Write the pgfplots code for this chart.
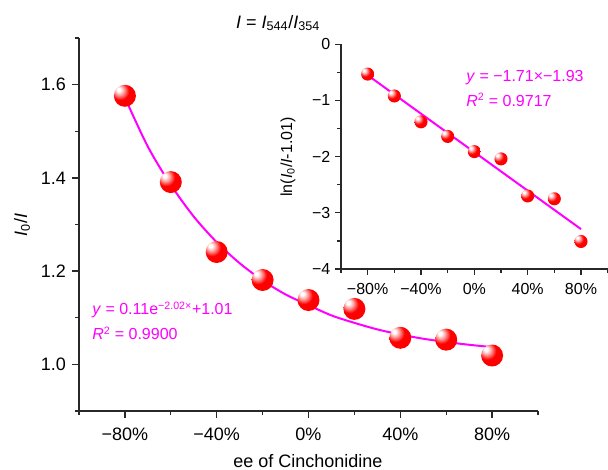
\documentclass[border=0pt]{standalone}
\usepackage{fontspec}
\setmainfont{Liberation Sans}
\usepackage{pgfplots}
\pgfplotsset{compat=1.18}
\definecolor{mag}{RGB}{255,0,255}
\definecolor{axgray}{RGB}{40,40,40}
\pgfdeclareradialshading{redsphere}{\pgfpoint{-15bp}{15bp}}{%
  color(0bp)=(white); color(4bp)=(white); color(11bp)=(red!40!white); color(20bp)=(red); color(50bp)=(red); color(70bp)=(red!85!black)}
\pgfdeclareplotmark{sball}{%
  \pgfpathcircle{\pgfpointorigin}{\pgfplotmarksize}%
  \pgfshadepath{redsphere}{0}%
  \pgfusepath{discard}}
\begin{document}
\begin{tikzpicture}[x=0.75pt,y=0.75pt]
\useasboundingbox (0,0) rectangle (608,470);
\begin{axis}[
  at={(59.25pt,44.25pt)}, anchor=south west,
  scale only axis, width=344.25pt, height=279.75pt,
  xmin=-100, xmax=100, ymin=0.9, ymax=1.7,
  axis x line*=bottom, axis y line*=left,
  axis line style={axgray, line width=1pt},
  xtick={-80,-40,0,40,80},
  xticklabels={−80\%,−40\%,0\%,40\%,80\%},
  minor xtick={-100,-60,-20,20,60,100},
  ytick={1.0,1.2,1.4,1.6},
  yticklabels={1.0,1.2,1.4,1.6},
  minor ytick={0.9,1.1,1.3,1.5,1.7},
  tick align=outside,
  major tick length=5.25pt, minor tick length=3pt,
  tick style={axgray, line width=1pt},
  tick label style={font=\fontsize{13.5}{16}\selectfont},
  xticklabel style={yshift=-4pt},
  yticklabel style={xshift=-1pt},
  clip=false,
]
\addplot[only marks, mark=sball, mark size=8.25pt] coordinates {
  (-80,1.576) (-60,1.391) (-40,1.241) (-20,1.181) (0,1.138)
  (20,1.119) (40,1.057) (60,1.053) (80,1.019)};
\addplot[mag, line width=1.5pt, smooth] coordinates {
  (-80,1.572) (-70,1.467) (-60,1.385) (-50,1.317) (-40,1.262) (-30,1.217)
  (-20,1.180) (-10,1.150) (0,1.127) (10,1.105) (20,1.089) (30,1.075)
  (40,1.064) (50,1.055) (60,1.048) (70,1.042) (80,1.037)};
\end{axis}
\begin{axis}[
  at={(255.75pt,150.75pt)}, anchor=south west,
  scale only axis, width=200pt, height=168.5pt,
  xmin=-100, xmax=100, ymin=-4, ymax=0,
  axis x line*=bottom, axis y line*=left,
  axis line style={axgray, line width=1pt},
  xtick={-80,-40,0,40,80},
  xticklabels={−80\%,−40\%,0\%,40\%,80\%},
  minor xtick={-100,-60,-20,20,60,100},
  ytick={-4,-3,-2,-1,0},
  yticklabels={−4,−3,−2,−1,0},
  minor ytick={-3.5,-2.5,-1.5,-0.5},
  tick align=outside,
  major tick length=4.5pt, minor tick length=3pt,
  tick style={axgray, line width=1pt},
  tick label style={font=\fontsize{12}{14}\selectfont},
  xticklabel style={yshift=-2.5pt},
  clip=false,
]
\addplot[only marks, mark=sball, mark size=4.9pt] coordinates {
  (-80,-0.53) (-60,-0.92) (-40,-1.38) (-20,-1.64) (0,-1.91)
  (20,-2.04) (40,-2.70) (60,-2.75) (80,-3.51)};
\addplot[mag, line width=1.5pt] coordinates {(-80,-0.55) (80,-3.29)};
\end{axis}
\node[font=\fontsize{13.5}{16}\selectfont] at (308,9) {ee of Cinchonidine};
\node[rotate=90, font=\fontsize{13.5}{16}\selectfont] at (22,245) {\textit{I}\textsubscript{0}/\textit{I}};
\node[rotate=90, font=\fontsize{12}{14}\selectfont] at (288,313) {ln(\textit{I}\textsubscript{0}/\textit{I}-1.01)};
\node[font=\fontsize{13.5}{16}\selectfont] at (278,447) {\textit{I} = \textit{I}\textsubscript{544}/\textit{I}\textsubscript{354}};
\node[anchor=base west, inner sep=0pt, text=mag, font=\fontsize{12}{14}\selectfont] at (92,155) {\textit{y} = 0.11e\textsuperscript{−2.02×}+1.01};
\node[anchor=base west, inner sep=0pt, text=mag, font=\fontsize{12}{14}\selectfont] at (92,130) {\textit{R}\textsuperscript{2} = 0.9900};
\node[anchor=base west, inner sep=0pt, text=mag, font=\fontsize{12}{14}\selectfont] at (466,388.3) {\textit{y} = −1.71×−1.93};
\node[anchor=base west, inner sep=0pt, text=mag, font=\fontsize{12}{14}\selectfont] at (466,363.3) {\textit{R}\textsuperscript{2} = 0.9717};
\end{tikzpicture}
\end{document}
